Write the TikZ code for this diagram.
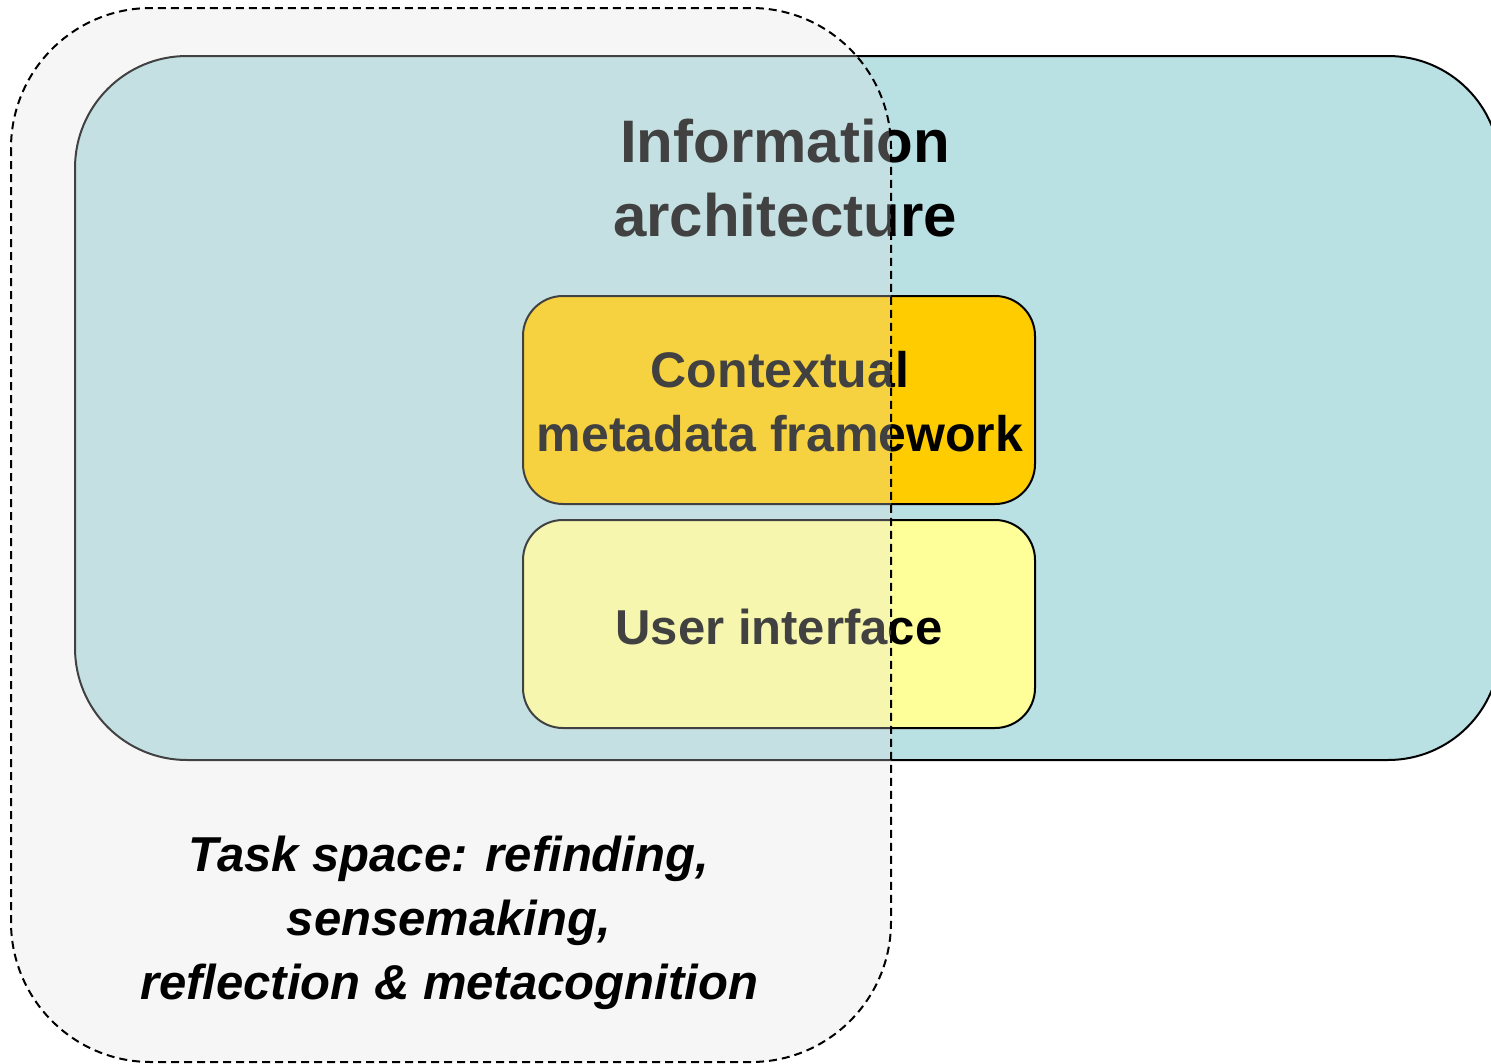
\documentclass[tikz,border=0pt]{standalone}
\usepackage{fontspec}
\setmainfont{Liberation Sans}
\begin{document}
\begin{tikzpicture}[x=1pt,y=-1pt,
  box/.style={draw=black,line width=2pt},
  lbl/.style={font=\bfseries,text=black,align=center,inner sep=0pt}]
\definecolor{teal}{HTML}{B9E0E3}
\definecolor{cgold}{HTML}{FFCC00}
\definecolor{lyel}{HTML}{FFFF99}
\definecolor{ovl}{HTML}{E3E3E3}
\useasboundingbox (0,0) rectangle (1491,1063);
\clip (0,0) rectangle (1491,1063);
\fill[white] (0,0) rectangle (1491,1063);
% information architecture
\draw[box,fill=teal,rounded corners=112pt] (75,56) rectangle (1500,760);
\node[lbl,font=\fontsize{60}{74}\selectfont\bfseries] (ia) at (785,178) {Information\\architecture};
% contextual metadata framework
\draw[box,fill=cgold,rounded corners=40pt] (523,296) rectangle (1035,504);
\node[lbl,font=\fontsize{50}{64}\selectfont\bfseries] (cmf) at (780,402) {Contextual\\metadata framework};
% user interface
\draw[box,fill=lyel,rounded corners=40pt] (523,520) rectangle (1035,728);
\node[lbl,font=\fontsize{49}{64}\selectfont\bfseries] (ui) at (779,627) {User interface};
% task space overlay
\fill[ovl,opacity=0.29,rounded corners=140pt] (11,8) rectangle (891,1062);
\draw[black,line width=2pt,dash pattern=on 8pt off 5pt,rounded corners=140pt] (11,8) rectangle (891,1062);
\node[lbl,font=\fontsize{49}{64}\selectfont\bfseries\itshape] (ts) at (449,923) {Task space: refinding,\\sensemaking,\\reflection \& metacognition};
\end{tikzpicture}
\end{document}
